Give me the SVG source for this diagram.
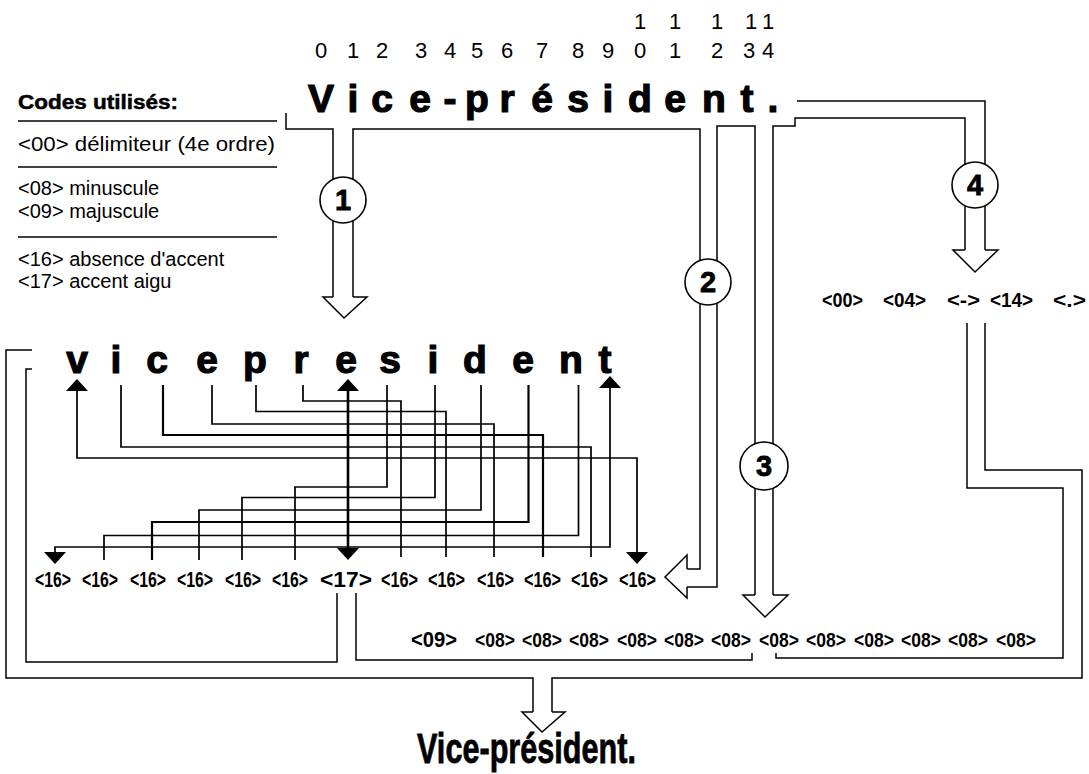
<svg xmlns="http://www.w3.org/2000/svg" width="1089" height="774" viewBox="0 0 1089 774">
<style>
text{font-family:"Liberation Sans",Arial,Helvetica,sans-serif;fill:#000}
.dig{font-size:22px;text-anchor:middle}
.ttl{font-size:39px;font-weight:bold;text-anchor:middle;stroke:#000;stroke-width:1.2}
.let{font-size:39px;font-weight:bold;text-anchor:middle;stroke:#000;stroke-width:1.2}
.leg{font-size:20px}
.legh{font-size:20px;font-weight:bold;stroke:#000;stroke-width:0.5}
.c16{font-size:22px;font-weight:bold}
.c08{font-size:21px;font-weight:bold}
.seq{font-size:20px;font-weight:bold}
.num{font-size:29px;font-weight:bold;text-anchor:middle;stroke:#000;stroke-width:0.8}
.ln{fill:none;stroke:#000;stroke-width:1.7}
.thk{stroke-width:2.6}
.med{stroke-width:2.2}
.pipe{fill:none;stroke:#000;stroke-width:1.5}
.hol{fill:#fff;stroke:#000;stroke-width:1.5;stroke-linejoin:miter}
.circ{fill:#fff;stroke:#000;stroke-width:1.6}
.rule{stroke:#000;stroke-width:1.5}
</style>
<defs>
<marker id="tri" viewBox="0 -11 12 22" markerUnits="userSpaceOnUse" markerWidth="12" markerHeight="22" refX="0" refY="0" orient="auto-start-reverse">
<path d="M0,-11 L12,0 L0,11 z" fill="#000"/>
</marker>
</defs>
<rect width="1089" height="774" fill="#fff"/>

<g id="index-digits">
<text class="dig" x="640" y="29">1</text><text class="dig" x="675" y="29">1</text><text class="dig" x="717" y="29">1</text><text class="dig" x="751" y="29">1</text><text class="dig" x="768" y="29">1</text>
<text class="dig" x="321" y="58">0</text><text class="dig" x="353" y="58">1</text><text class="dig" x="382" y="58">2</text><text class="dig" x="421" y="58">3</text><text class="dig" x="450" y="58">4</text><text class="dig" x="477" y="58">5</text><text class="dig" x="507" y="58">6</text><text class="dig" x="542" y="58">7</text><text class="dig" x="578" y="58">8</text><text class="dig" x="608" y="58">9</text><text class="dig" x="640" y="58">0</text><text class="dig" x="675" y="58">1</text><text class="dig" x="717" y="58">2</text><text class="dig" x="749" y="58">3</text><text class="dig" x="768" y="58">4</text>
</g>

<g id="title">
<text class="ttl" x="321" y="112">V</text><text class="ttl" x="353" y="112">i</text><text class="ttl" x="382" y="112">c</text><text class="ttl" x="420" y="112">e</text><text class="ttl" x="450" y="112">-</text><text class="ttl" x="477" y="112">p</text><text class="ttl" x="507" y="112">r</text><text class="ttl" x="542" y="112">é</text><text class="ttl" x="578" y="112">s</text><text class="ttl" x="608" y="112">i</text><text class="ttl" x="640" y="112">d</text><text class="ttl" x="675" y="112">e</text><text class="ttl" x="714" y="112">n</text><text class="ttl" x="747" y="112">t</text><text class="ttl" x="773" y="112">.</text>
</g>

<g id="legend">
<text class="legh" x="18" y="109" textLength="160" lengthAdjust="spacingAndGlyphs">Codes utilisés:</text>
<line class="rule" x1="18" y1="121" x2="277" y2="121"/>
<text class="leg" x="18" y="151" textLength="257" lengthAdjust="spacingAndGlyphs">&lt;00&gt; délimiteur (4e ordre)</text>
<line class="rule" x1="18" y1="167" x2="277" y2="167"/>
<text class="leg" x="18" y="195">&lt;08&gt; minuscule</text>
<text class="leg" x="18" y="218">&lt;09&gt; majuscule</text>
<line class="rule" x1="18" y1="237" x2="277" y2="237"/>
<text class="leg" x="18" y="266">&lt;16&gt; absence d'accent</text>
<text class="leg" x="18" y="288">&lt;17&gt; accent aigu</text>
</g>

<g id="letters">
<text class="let" x="77" y="373">v</text><text class="let" x="116" y="373">i</text><text class="let" x="157" y="373">c</text><text class="let" x="207" y="373">e</text><text class="let" x="255" y="373">p</text><text class="let" x="301" y="373">r</text><text class="let" x="346" y="373">e</text><text class="let" x="390" y="373">s</text><text class="let" x="433" y="373">i</text><text class="let" x="475" y="373">d</text><text class="let" x="523" y="373">e</text><text class="let" x="571" y="373">n</text><text class="let" x="605" y="373">t</text>
</g>

<g id="accent-codes">
<text class="c16" x="35" y="587" textLength="36" lengthAdjust="spacingAndGlyphs">&lt;16&gt;</text>
<text class="c16" x="82" y="587" textLength="36" lengthAdjust="spacingAndGlyphs">&lt;16&gt;</text>
<text class="c16" x="130" y="587" textLength="36" lengthAdjust="spacingAndGlyphs">&lt;16&gt;</text>
<text class="c16" x="177" y="587" textLength="36" lengthAdjust="spacingAndGlyphs">&lt;16&gt;</text>
<text class="c16" x="225" y="587" textLength="36" lengthAdjust="spacingAndGlyphs">&lt;16&gt;</text>
<text class="c16" x="272" y="587" textLength="36" lengthAdjust="spacingAndGlyphs">&lt;16&gt;</text>
<text class="c16" x="320" y="587" font-size="30" textLength="52" lengthAdjust="spacingAndGlyphs">&lt;17&gt;</text>
<text class="c16" x="381" y="587" textLength="37" lengthAdjust="spacingAndGlyphs">&lt;16&gt;</text>
<text class="c16" x="428" y="587" textLength="37" lengthAdjust="spacingAndGlyphs">&lt;16&gt;</text>
<text class="c16" x="477" y="587" textLength="37" lengthAdjust="spacingAndGlyphs">&lt;16&gt;</text>
<text class="c16" x="524" y="587" textLength="37" lengthAdjust="spacingAndGlyphs">&lt;16&gt;</text>
<text class="c16" x="571" y="587" textLength="37" lengthAdjust="spacingAndGlyphs">&lt;16&gt;</text>
<text class="c16" x="619" y="587" textLength="37" lengthAdjust="spacingAndGlyphs">&lt;16&gt;</text>
</g>

<g id="case-codes">
<text class="c16" x="411" y="647" font-size="27" textLength="46" lengthAdjust="spacingAndGlyphs">&lt;09&gt;</text>
<text class="c08" x="475" y="647" textLength="40" lengthAdjust="spacingAndGlyphs">&lt;08&gt;</text>
<text class="c08" x="522" y="647" textLength="40" lengthAdjust="spacingAndGlyphs">&lt;08&gt;</text>
<text class="c08" x="569" y="647" textLength="40" lengthAdjust="spacingAndGlyphs">&lt;08&gt;</text>
<text class="c08" x="617" y="647" textLength="40" lengthAdjust="spacingAndGlyphs">&lt;08&gt;</text>
<text class="c08" x="664" y="647" textLength="40" lengthAdjust="spacingAndGlyphs">&lt;08&gt;</text>
<text class="c08" x="711" y="647" textLength="40" lengthAdjust="spacingAndGlyphs">&lt;08&gt;</text>
<text class="c08" x="759" y="647" textLength="40" lengthAdjust="spacingAndGlyphs">&lt;08&gt;</text>
<text class="c08" x="806" y="647" textLength="40" lengthAdjust="spacingAndGlyphs">&lt;08&gt;</text>
<text class="c08" x="854" y="647" textLength="40" lengthAdjust="spacingAndGlyphs">&lt;08&gt;</text>
<text class="c08" x="901" y="647" textLength="40" lengthAdjust="spacingAndGlyphs">&lt;08&gt;</text>
<text class="c08" x="948" y="647" textLength="40" lengthAdjust="spacingAndGlyphs">&lt;08&gt;</text>
<text class="c08" x="996" y="647" textLength="40" lengthAdjust="spacingAndGlyphs">&lt;08&gt;</text>
</g>

<g id="special-codes">
<text class="seq" x="822" y="307" textLength="41" lengthAdjust="spacingAndGlyphs">&lt;00&gt;</text>
<text class="seq" x="883" y="307" textLength="43" lengthAdjust="spacingAndGlyphs">&lt;04&gt;</text>
<text class="seq" x="947" y="307" textLength="33" lengthAdjust="spacingAndGlyphs">&lt;-&gt;</text>
<text class="seq" x="990" y="307" textLength="43" lengthAdjust="spacingAndGlyphs">&lt;14&gt;</text>
<text class="seq" x="1053" y="307" textLength="33" lengthAdjust="spacingAndGlyphs">&lt;.&gt;</text>
</g>

<g id="result">
<text x="417" y="763" font-size="43" font-weight="bold" stroke="#000" stroke-width="0.8" textLength="219" lengthAdjust="spacingAndGlyphs">Vice-président.</text>
</g>

<g id="connectors">
<path class="ln" d="M77 391 V458 H637 V552" marker-start="url(#tri)" marker-end="url(#tri)"/>
<path class="ln" d="M121 385 V447 H591 V557"/>
<path class="ln med" d="M163 385 V435 H543 V557"/>
<path class="ln" d="M212 385 V424 H494 V557"/>
<path class="ln" d="M256 385 V411.5 H446 V557"/>
<path class="ln" d="M303 385 V401 H401 V557"/>
<path class="ln thk" d="M348 391 V548" marker-start="url(#tri)" marker-end="url(#tri)"/>
<path class="ln" d="M387 385 V487 H295 V560"/>
<path class="ln" d="M435 385 V497.5 H242 V560"/>
<path class="ln" d="M481 385 V510 H199 V560"/>
<path class="ln med" d="M528.5 385 V522 H152 V560"/>
<path class="ln" d="M578.5 385 V535.5 H104 V560"/>
<path class="ln" d="M610 388 V547 H55 V552" marker-start="url(#tri)" marker-end="url(#tri)"/>

<path class="pipe" d="M286 113 V129 H333 V297"/>
<path class="pipe" d="M353 297 V129 H700 V569 H687"/>
<path class="pipe" d="M687 587 H717 V126 H755 V595"/>
<path class="pipe" d="M773 595 V126 H795 V118 H965 V250"/>
<path class="pipe" d="M797 101 H985 V250"/>
<path class="pipe" d="M967 323 V488 H1063 V658 H776 V653"/>
<path class="pipe" d="M985 323 V470 H1082 V678 H552 V712"/>
<path class="pipe" d="M533 712 V678 H6 V350 H32"/>
<path class="pipe" d="M32 369 H26 V662 H337 V593"/>
<path class="pipe" d="M356 593 V660 H752 V653"/>

<path class="hol" d="M333 297 H323 L344 318 L367 297 H353"/>
<path class="hol" d="M687 569 V555 L665 577 L687 598 V587"/>
<path class="hol" d="M755 595 H743 L765 617 L788 595 H773"/>
<path class="hol" d="M965 250 H953 L975 272 L998 250 H985"/>
<path class="hol" d="M533 712 H522 L542 732 L565 712 H552"/>
</g>

<g id="step1"><circle class="circ" cx="343" cy="200" r="23"/><text class="num" x="343" y="210">1</text></g>
<g id="step2"><circle class="circ" cx="708" cy="282" r="23"/><text class="num" x="708" y="292">2</text></g>
<g id="step3"><circle class="circ" cx="764" cy="466" r="24"/><text class="num" x="764" y="476">3</text></g>
<g id="step4"><circle class="circ" cx="975" cy="185" r="23"/><text class="num" x="975" y="195">4</text></g>
</svg>
